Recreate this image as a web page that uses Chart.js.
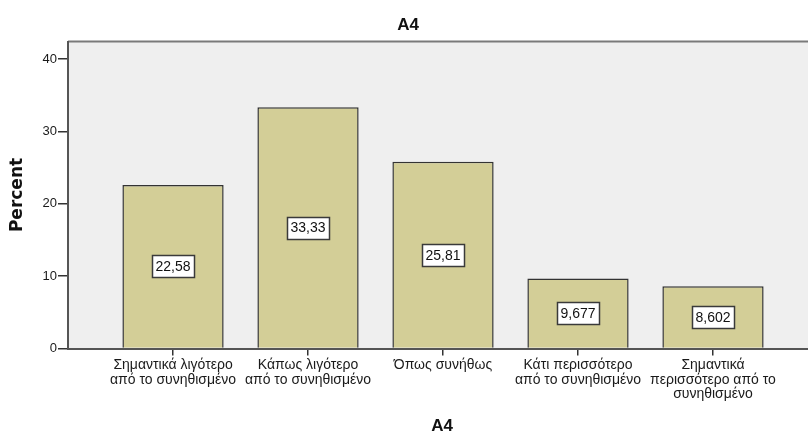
<!DOCTYPE html>
<html>
<head>
<meta charset="utf-8">
<script src="https://cdn.jsdelivr.net/npm/chart.js@4.4.1/dist/chart.umd.min.js"></script>
<style>
  html, body { margin: 0; padding: 0; background: #fff; overflow: hidden; width: 808px; height: 435px; }
  #chart { display: block; }
</style>
</head>
<body>
<!-- the SPSS plot runs a bit past the right edge of the image, so the canvas is wider than the window -->
<canvas id="chart" width="816" height="435"></canvas>
<script>
const categories = [
    ["Σημαντικά λιγότερο", "από το συνηθισμένο"],
    ["Κάπως λιγότερο", "από το συνηθισμένο"],
    ["Όπως συνήθως"],
    ["Κάτι περισσότερο", "από το συνηθισμένο"],
    ["Σημαντικά", "περισσότερο από το", "συνηθισμένο"]
];
const percents = [22.58, 33.33, 25.81, 9.677, 8.602];
const percentLabels = ["22,58", "33,33", "25,81", "9,677", "8,602"];
const yTicks = [0, 10, 20, 30, 40];

const FONT = "'Liberation Sans', Arial, sans-serif";
const WIDE = "'DejaVu Sans', Verdana, sans-serif";

// grey plot background + top border, like the SPSS output
const plotFrame = {
    id: "plotFrame",
    beforeDraw(chart) {
        const {ctx, chartArea: a} = chart;
        ctx.save();
        ctx.fillStyle = "#efefef";
        ctx.fillRect(a.left, a.top, a.right - a.left, a.bottom - a.top);
        ctx.strokeStyle = "#7a7a7a";
        ctx.lineWidth = 2;
        ctx.beginPath();
        ctx.moveTo(a.left, a.top);
        ctx.lineTo(a.right, a.top);
        ctx.stroke();
        ctx.restore();
    }
};

// white boxed value labels in the middle of each bar
const boxLabels = {
    id: "boxLabels",
    afterDatasetsDraw(chart) {
        const {ctx} = chart;
        const meta = chart.getDatasetMeta(0);
        ctx.save();
        ctx.font = "14px " + FONT;
        ctx.textAlign = "center";
        ctx.textBaseline = "middle";
        meta.data.forEach((bar, i) => {
            const text = percentLabels[i];
            const cy = (bar.y + bar.base) / 2;
            const w = Math.round(ctx.measureText(text).width) + 7;
            const h = 22;
            const x0 = Math.round(bar.x - w / 2) + 0.5;
            const y0 = Math.round(cy - h / 2) + 0.5;
            ctx.fillStyle = "#ffffff";
            ctx.fillRect(x0, y0, w, h);
            ctx.strokeStyle = "#3a3a3a";
            ctx.lineWidth = 1.5;
            ctx.strokeRect(x0, y0, w, h);
            ctx.fillStyle = "#111";
            ctx.fillText(text, bar.x, cy + 1);
        });
        ctx.restore();
    }
};

new Chart(document.getElementById("chart"), {
    type: "bar",
    data: {
        datasets: [{
            label: "Percent",
            data: percents.map((v, i) => ({x: i, y: v})),
            backgroundColor: "#d3ce97",
            borderColor: "#333",
            borderWidth: 1.5,
            barPercentage: 0.75,
            categoryPercentage: 1
        }]
    },
    options: {
        responsive: false,
        animation: false,
        layout: {padding: 0},
        plugins: {
            legend: {display: false},
            tooltip: {enabled: false},
            title: {
                display: true,
                text: "A4",
                color: "#111",
                font: {family: FONT, size: 17, weight: "bold", lineHeight: 1.2},
                padding: {top: 14.8, bottom: 6.3}
            }
        },
        scales: {
            x: {
                type: "linear",
                offset: false,
                min: -0.778,
                max: 4.763,
                afterBuildTicks: s => { s.ticks = categories.map((c, i) => ({value: i})); },
                afterFit: s => { s.height = 86.5; },
                grid: {drawOnChartArea: false, offset: false, color: "#333", tickLength: 7, lineWidth: 1.5},
                border: {display: true, color: "#555", width: 2},
                ticks: {
                    color: "#1a1a1a",
                    font: {family: FONT, size: 14, lineHeight: 1.02},
                    padding: 3,
                    maxRotation: 0,
                    autoSkip: false,
                    callback: v => categories[v] || ""
                },
                title: {
                    display: true,
                    text: "A4",
                    color: "#111",
                    font: {family: FONT, size: 17, weight: "bold", lineHeight: 1},
                    padding: {top: 0, bottom: 0}
                }
            },
            y: {
                min: 0,
                max: 42.42,
                afterBuildTicks: s => { s.ticks = yTicks.map(v => ({value: v})); },
                afterFit: s => { s.width = 68; },
                grid: {drawOnChartArea: false, color: "#333", tickLength: 10, lineWidth: 1.5},
                border: {display: true, color: "#555", width: 2},
                ticks: {
                    color: "#1a1a1a",
                    font: {family: FONT, size: 13},
                    padding: 1
                },
                title: {
                    display: true,
                    text: "Percent",
                    color: "#111",
                    font: {family: WIDE, size: 17, weight: "bold", lineHeight: 1},
                    padding: {top: 9.5, bottom: 0}
                }
            }
        }
    },
    plugins: [plotFrame, boxLabels]
});
</script>
</body>
</html>
